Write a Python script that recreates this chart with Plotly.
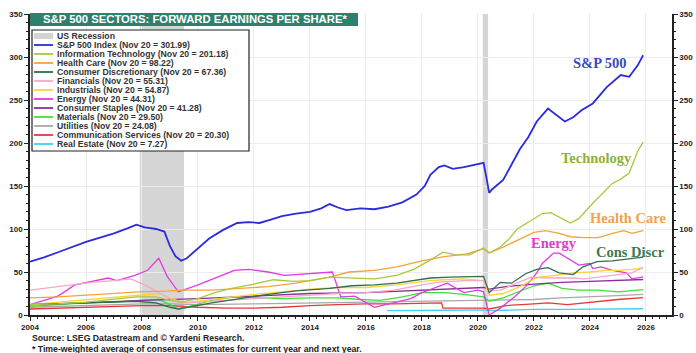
import plotly.graph_objects as go

# ---------------- data (decimal years, forward EPS in $) ----------------
sp_x = [2004.0, 2004.5, 2005.0, 2005.5, 2006.0, 2006.5, 2007.0, 2007.5, 2007.8, 2008.1, 2008.5, 2008.8,
        2009.0, 2009.2, 2009.4, 2009.6, 2010.0, 2010.4, 2010.9, 2011.4, 2011.8, 2012.2, 2012.6, 2013.0,
        2013.5, 2014.0, 2014.4, 2014.7, 2015.0, 2015.3, 2015.8, 2016.3, 2016.8, 2017.3, 2017.8, 2018.1,
        2018.3, 2018.6, 2018.8, 2019.1, 2019.5, 2019.9, 2020.2, 2020.3, 2020.4, 2020.5, 2020.9, 2021.2,
        2021.5, 2021.8, 2022.1, 2022.5, 2022.8, 2023.1, 2023.4, 2023.7, 2024.1, 2024.6, 2025.1, 2025.4,
        2025.7, 2025.9]
sp_y = [62, 67, 73, 79, 85, 90, 95, 101, 105, 102, 100, 97,
        80, 68, 63, 66, 78, 89, 99, 107, 108, 107, 111, 115,
        118, 120, 124, 129, 125, 122, 124, 123, 126, 131, 140, 150,
        163, 172, 174, 170, 172, 175, 177, 160, 142, 146, 157, 175,
        193, 207, 225, 240, 232, 225, 230, 238, 246, 265, 279, 277,
        290, 301.99]

it_x = [2004.0, 2005.0, 2006.0, 2007.0, 2007.8, 2008.5, 2009.0, 2009.4, 2010.0, 2010.6, 2011.2, 2012.0,
        2012.7, 2013.4, 2014.0, 2014.7, 2015.5, 2016.3, 2017.1, 2017.7, 2018.2, 2018.75, 2019.2, 2019.7,
        2020.2, 2020.4, 2020.8, 2021.1, 2021.4, 2021.9, 2022.3, 2022.6, 2023.0, 2023.3, 2023.6, 2024.1,
        2024.5, 2024.8, 2025.1, 2025.4, 2025.7, 2025.9]
it_y = [12, 13, 15, 18, 21, 21, 17, 15, 19, 26, 31, 36,
        41, 39, 40, 44, 43, 42, 46, 53, 62, 73, 70, 70,
        78, 72, 79, 88, 100, 110, 118, 119, 112, 107, 112, 130,
        143, 153, 158, 165, 190, 201.18]

hc_x = [2004.0, 2005.0, 2006.0, 2007.0, 2007.9, 2009.0, 2009.5, 2010.5, 2011.5, 2012.5, 2013.5, 2014.7,
        2015.4, 2016.3, 2017.1, 2018.0, 2018.8, 2019.6, 2020.2, 2020.4, 2020.9, 2021.5, 2022.0, 2022.4,
        2022.9, 2023.3, 2023.8, 2024.3, 2024.8, 2025.2, 2025.5, 2025.9]
hc_y = [20, 21, 23, 25, 27, 28, 29, 29, 31, 33, 37, 44,
        50, 52, 56, 63, 68, 71, 77, 72, 79, 88, 96, 98,
        95, 91, 90, 90, 95, 98, 95, 98.22]

cd_x = [2004.0, 2005.0, 2006.0, 2007.0, 2007.8, 2008.5, 2009.0, 2009.3, 2009.8, 2010.5, 2011.5, 2012.5,
        2013.5, 2014.7, 2015.5, 2016.3, 2017.1, 2017.8, 2018.3, 2019.0, 2019.7, 2020.2, 2020.4, 2020.8,
        2021.2, 2021.7, 2022.1, 2022.5, 2022.9, 2023.4, 2023.75, 2024.25, 2024.8, 2025.3, 2025.9]
cd_y = [12, 13, 14, 15, 16, 14, 9, 7, 10, 14, 19, 24,
        28, 31, 34, 35, 37, 40, 43, 44, 45, 45, 26, 38,
        37, 48, 53, 55, 49, 47, 56, 62, 63, 65, 67.36]

fi_x = [2004.0, 2005.0, 2006.2, 2007.0, 2007.6, 2008.1, 2008.6, 2009.1, 2009.6, 2010.0, 2011.0, 2012.0,
        2013.0, 2014.0, 2015.0, 2016.0, 2017.0, 2018.0, 2018.5, 2019.5, 2020.2, 2020.4, 2020.8, 2021.3,
        2021.9, 2022.5, 2023.4, 2023.8, 2024.6, 2025.5, 2025.9]
fi_y = [29, 33, 38, 40, 42, 35, 26, 17, 14, 15, 17, 19,
        21, 23, 25, 26, 29, 35, 38, 40, 40, 28, 29, 36,
        44, 43, 43, 42, 45, 49, 55.31]

in_x = [2004.0, 2005.0, 2006.0, 2007.0, 2008.0, 2008.6, 2009.0, 2009.5, 2010.0, 2011.0, 2012.0, 2013.0,
        2014.0, 2015.0, 2016.0, 2017.1, 2018.3, 2018.8, 2019.5, 2020.2, 2020.4, 2020.9, 2021.5, 2022.0,
        2022.2, 2023.0, 2023.4, 2024.0, 2024.6, 2025.0, 2025.5, 2025.9]
in_y = [12, 15, 18, 21, 24, 25, 20, 14, 16, 20, 24, 27,
        30, 32, 32, 35, 40, 41, 42, 40, 23, 25, 33, 42,
        44, 47, 49, 50, 52, 52, 53, 54.87]

en_x = [2004.0, 2005.0, 2005.6, 2006.1, 2006.8, 2007.1, 2007.75, 2008.2, 2008.6, 2008.9, 2009.3, 2010.0,
        2010.8, 2011.3, 2011.8, 2012.5, 2013.1, 2013.8, 2014.4, 2014.8, 2015.1, 2015.6, 2016.3, 2016.7,
        2017.1, 2017.6, 2018.0, 2018.5, 2018.9, 2019.5, 2020.0, 2020.2, 2020.4, 2020.8, 2021.3, 2021.7,
        2022.1, 2022.3, 2022.7, 2022.9, 2023.4, 2023.6, 2024.0, 2024.1, 2024.4, 2024.8, 2025.3, 2025.5,
        2025.9]
en_y = [12, 22, 35, 38, 43, 40, 46, 52, 66, 45, 27, 35,
        45, 52, 53, 50, 46, 48, 49, 50, 21, 22, 9, 12,
        15, 19, 26, 32, 37, 26, 29, 27, 0, 8, 21, 33,
        49, 60, 72, 72, 62, 58, 60, 54, 56, 52, 49, 42,
        44.31]

cs_x = [2004.0, 2006.0, 2008.0, 2009.0, 2010.0, 2012.0, 2014.0, 2016.0, 2018.0, 2019.0, 2020.2, 2020.4,
        2021.0, 2022.0, 2023.0, 2024.0, 2025.0, 2025.9]
cs_y = [12, 14, 17, 18, 19, 22, 25, 26, 29, 31, 32, 30,
        33, 36, 38, 39, 40, 41.28]

ma_x = [2004.0, 2005.0, 2006.0, 2007.0, 2008.0, 2008.6, 2009.0, 2009.3, 2009.8, 2010.5, 2011.3, 2012.0,
        2013.0, 2014.0, 2015.0, 2015.8, 2016.5, 2017.3, 2018.0, 2018.8, 2019.5, 2020.2, 2020.4, 2020.9,
        2021.5, 2022.0, 2022.5, 2023.0, 2023.6, 2024.3, 2025.0, 2025.9]
ma_y = [10, 12, 14, 15, 17, 18, 12, 7, 11, 17, 21, 20,
        19, 20, 20, 18, 17, 21, 26, 26, 24, 21, 16, 20,
        28, 34, 37, 31, 29, 29, 27, 29.50]

ut_x = [2004.0, 2006.0, 2008.0, 2009.0, 2010.0, 2012.0, 2014.0, 2016.0, 2018.0, 2020.0, 2021.0, 2022.0,
        2023.0, 2024.0, 2025.0, 2025.9]
ut_y = [9, 11, 13, 13, 12, 13, 14, 15, 16, 17, 17, 18,
        20, 21, 22.5, 24.08]

cm_x = [2004.0, 2005.0, 2006.0, 2007.0, 2008.0, 2009.0, 2010.0, 2011.0, 2012.0, 2013.0, 2014.0, 2015.0,
        2016.0, 2017.0, 2018.0, 2018.7, 2018.75, 2019.5, 2020.2, 2020.4, 2021.0, 2022.0, 2022.5, 2023.2,
        2024.0, 2025.0, 2025.9]
cm_y = [7, 8, 9, 10, 11, 11, 9, 8, 8, 9, 11, 12,
        13, 13, 14, 14, 8, 8, 8, 7, 11, 13, 14, 12,
        15, 18, 20.30]

re_x = [2016.75, 2018.0, 2019.0, 2020.2, 2020.4, 2021.0, 2022.0, 2023.0, 2024.0, 2025.0, 2025.9]
re_y = [5, 5, 5.5, 6, 5, 5.5, 6.5, 6.5, 7, 7, 7.27]

sector_names = ["S&P 500 Index", "Information Technology", "Health Care", "Consumer Discretionary",
                "Financials", "Industrials", "Energy", "Consumer Staples", "Materials", "Utilities",
                "Communication Services", "Real Estate"]
sector_colors = ["#2b2be0", "#a9c83c", "#f5a33a", "#2f6e50", "#f6a8c8", "#f7d43a", "#e03ce0",
                 "#8a2e9e", "#3ee03e", "#a8a8a8", "#e23a3a", "#3cd2f0"]
sector_x = [sp_x, it_x, hc_x, cd_x, fi_x, in_x, en_x, cs_x, ma_x, ut_x, cm_x, re_x]
sector_y = [sp_y, it_y, hc_y, cd_y, fi_y, in_y, en_y, cs_y, ma_y, ut_y, cm_y, re_y]

recession_start = [2007.92, 2020.17]
recession_end = [2009.5, 2020.36]

label_text = ["S&P 500", "Technology", "Health Care", "Energy", "Cons Discr"]
label_x = [2024.36, 2024.25, 2025.36, 2022.7, 2025.45]
label_y = [293, 183, 113, 84, 73]
label_color = ["#3a4bc0", "#8db13c", "#f0a24e", "#e03ccc", "#3d7a52"]

# ---------------- figure ----------------
W, H = 696, 353
ML, MR, MT, MB = 30, 24, 14, 38
PW, PH = W - ML - MR, H - MT - MB


def px(xp):
    return (xp - ML) / PW


def py(yp):
    return (H - MB - yp) / PH


fig = go.Figure()

# draw smaller sectors first so the index line sits on top
order = list(range(len(sector_names)))[::-1]
for i in order:
    fig.add_trace(go.Scatter(
        x=sector_x[i], y=sector_y[i], mode="lines", name=sector_names[i],
        line=dict(color=sector_colors[i], width=1.8 if i == 0 else 1.3),
        showlegend=False, hoverinfo="skip"))

# companion axis on the right
fig.add_trace(go.Scatter(x=[2004], y=[0], yaxis="y2", mode="markers",
                         marker=dict(opacity=0), showlegend=False, hoverinfo="skip"))

shapes = []
for s, e in zip(recession_start, recession_end):
    shapes.append(dict(type="rect", xref="x", yref="paper", x0=s, x1=e, y0=0, y1=1,
                       fillcolor="#d6d6d6", line=dict(width=0), layer="below"))

# title bar
shapes.append(dict(type="rect", xref="paper", yref="paper", x0=0, x1=px(358),
                   y0=py(26), y1=py(13), fillcolor="#2f7f6d", line=dict(width=0)))

annotations = [dict(xref="paper", yref="paper", x=px(41), y=py(19.5), xanchor="left", yanchor="middle",
                    text="S&P 500 SECTORS: FORWARD EARNINGS PER SHARE*", showarrow=False,
                    font=dict(family="Liberation Sans, Arial", size=11.3, color="white", weight="bold"))]

# legend box
shapes.append(dict(type="rect", xref="paper", yref="paper", x0=px(32), x1=px(249),
                   y0=py(151), y1=py(30), fillcolor="white", line=dict(color="#222", width=1.2)))
row0, drow = 36, 9
legend_font = dict(family="Liberation Sans, Arial", size=8.7, color="#333", weight="bold")
shapes.append(dict(type="rect", xref="paper", yref="paper", x0=px(34), x1=px(53),
                   y0=py(row0 + 3), y1=py(row0 - 3), fillcolor="#d3d3d3", line=dict(width=0)))
annotations.append(dict(xref="paper", yref="paper", x=px(56), y=py(row0), xanchor="left",
                        yanchor="middle", text="US Recession", showarrow=False, font=legend_font,
                        borderpad=0))
for i, name in enumerate(sector_names):
    yy = row0 + drow * (i + 1)
    shapes.append(dict(type="line", xref="paper", yref="paper", x0=px(34), x1=px(53),
                       y0=py(yy), y1=py(yy), line=dict(color=sector_colors[i], width=1.8)))
    annotations.append(dict(xref="paper", yref="paper", x=px(56), y=py(yy), xanchor="left",
                            yanchor="middle", showarrow=False, borderpad=0,
                            text=f"{name} (Nov 20 = {sector_y[i][-1]:.2f})", font=legend_font))

# sector labels on the chart
for t, x, y, c in zip(label_text, label_x, label_y, label_color):
    annotations.append(dict(x=x, y=y, xref="x", yref="y", text=t, showarrow=False,
                            font=dict(family="Liberation Serif, Times New Roman", size=14.5, color=c,
                                      weight="bold")))

# footer
annotations.append(dict(xref="paper", yref="paper", x=0, y=py(338), xanchor="left", yanchor="middle",
                        text="Source: LSEG Datastream and © Yardeni Research.", showarrow=False,
                        font=dict(family="Liberation Sans, Arial", size=8.7, color="#222", weight="bold")))
annotations.append(dict(xref="paper", yref="paper", x=0, y=py(349), xanchor="left", yanchor="middle",
                        text="* Time-weighted average of consensus estimates for current year and next year.",
                        showarrow=False,
                        font=dict(family="Liberation Sans, Arial", size=8.7, color="#222", weight="bold")))

tickfont = dict(family="Liberation Sans, Arial", size=8, color="#222", weight="bold")
fig.update_layout(
    width=W, height=H, margin=dict(l=ML, r=MR, t=MT, b=MB),
    paper_bgcolor="white", plot_bgcolor="white",
    shapes=shapes, annotations=annotations,
    xaxis=dict(range=[2004, 2026.93], tickvals=list(range(2004, 2027, 2)), ticks="outside", ticklen=4,
               tickwidth=1, tickcolor="#222", showline=True, linecolor="#222", linewidth=1.5,
               showgrid=True, gridcolor="#ececec", gridwidth=1, zeroline=False, tickfont=tickfont,
               automargin=False,
               minor=dict(dtick=0.25, ticks="outside", ticklen=2, tickcolor="#222", showgrid=False)),
    yaxis=dict(range=[0, 350], dtick=50, ticks="outside", ticklen=4, tickcolor="#222", showline=True,
               linecolor="#222", linewidth=1.5, showgrid=True, gridcolor="#ececec", zeroline=False,
               tickfont=tickfont, automargin=False,
               minor=dict(dtick=10, ticks="outside", ticklen=2, tickcolor="#222")),
    yaxis2=dict(range=[0, 350], dtick=50, overlaying="y", side="right", ticks="outside", ticklen=4,
                tickcolor="#222", showline=True, linecolor="#222", linewidth=1.5, showgrid=False,
                zeroline=False, tickfont=tickfont, automargin=False,
                minor=dict(dtick=10, ticks="outside", ticklen=2, tickcolor="#222")),
)

fig.write_html("out.html")
